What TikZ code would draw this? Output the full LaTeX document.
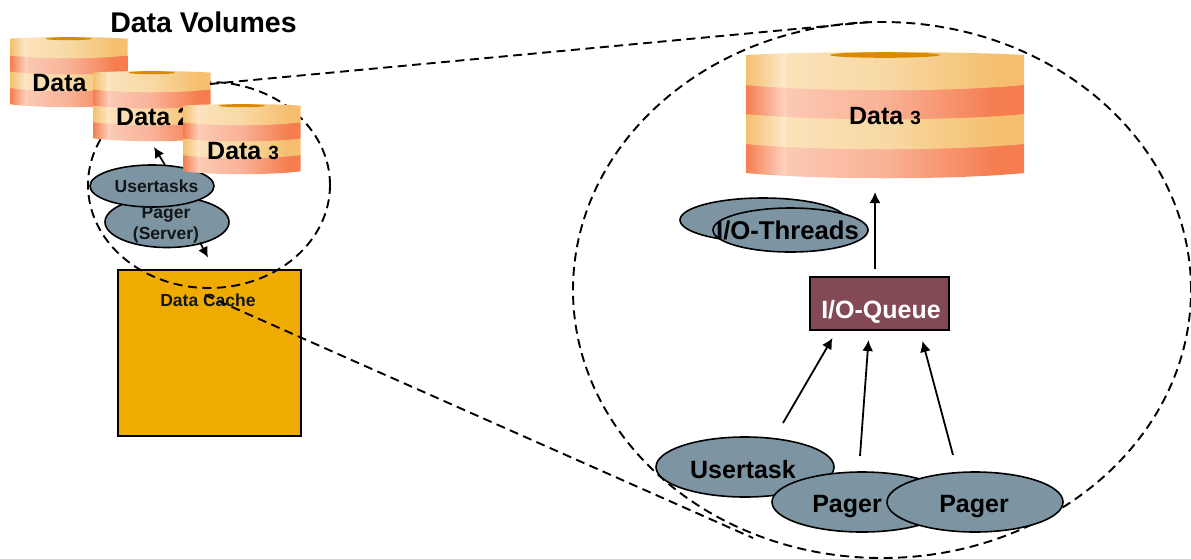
\documentclass[tikz,border=0pt]{standalone}
\usepackage{fontspec}
\setmainfont{Liberation Sans}
\usetikzlibrary{arrows.meta,shapes.geometric}
\definecolor{ya}{HTML}{F5BF6E}\definecolor{yb}{HTML}{FCE9CC}\definecolor{yc}{HTML}{FBE2BA}\definecolor{yd}{HTML}{F8D9A4}
\definecolor{ra}{HTML}{F57D4F}\definecolor{rb}{HTML}{FCD3C0}\definecolor{rc}{HTML}{FBC9B2}\definecolor{rd}{HTML}{F9B297}
\definecolor{slate}{HTML}{7D95A3}\definecolor{cache}{HTML}{F0AB00}\definecolor{queuec}{HTML}{834A55}\definecolor{holec}{HTML}{D98A00}
\pgfdeclarehorizontalshading{yband}{100bp}{color(0bp)=(ya);color(25bp)=(ya);color(32bp)=(yb);color(32.2bp)=(yc);color(50bp)=(yd);color(70bp)=(ya);color(100bp)=(ya)}
\pgfdeclarehorizontalshading{rband}{100bp}{color(0bp)=(ra);color(25bp)=(ra);color(32bp)=(rb);color(32.2bp)=(rc);color(50bp)=(rd);color(70bp)=(ra);color(100bp)=(ra)}
\newcommand{\bandpath}[3]{\shade[shading=#1] (0,#2) .. controls (70,#2-4) and (208,#2-4) .. (278,#2) -- (278,#3) .. controls (208,#3+7) and (70,#3+7) .. (0,#3) -- cycle;}
\newcommand{\cylshape}[4]{\begin{scope}[shift={(#1,#2)},xscale=#3,yscale=#4]
\bandpath{rband}{92}{121}
\bandpath{yband}{62}{92}
\bandpath{rband}{33}{62}
\bandpath{yband}{3}{33}
\fill[holec] (139,3) ellipse [x radius=55,y radius=2.8];
\end{scope}}
\newcommand{\pxfont}[1]{\fontsize{#1}{#1}\selectfont}
\tikzset{
 x=1pt,y=-1pt,
 zoomline/.style={line width=1.9pt,dash pattern=on 9pt off 5.5pt,black},
 zoomring/.style={ellipse,draw,zoomline,inner sep=0pt,outer sep=0pt},
 procoval/.style={ellipse,draw=black,line width=1.6pt,fill=slate,inner sep=0pt,outer sep=0pt},
 conn/.style={line width=1.8pt,black,-{Latex[length=11pt,width=11pt]}},
 smallconn/.style={line width=1.7pt,black,-{Latex[length=10.5pt,width=10.5pt]}},
 lbl/.style={font=\bfseries\pxfont{25},inner sep=0pt,text=black},
 smalllbl/.style={font=\bfseries\pxfont{17.5},inner sep=0pt,text=black!85!slate},
}
\begin{document}
\begin{tikzpicture}
\useasboundingbox (0,0) rectangle (1191,558);
% large zoom ring
\node[zoomring,minimum width=618pt,minimum height=536pt] (bigring) at (882,290) {};
% data cache
\node[draw=black,line width=1.5pt,fill=cache,minimum width=183pt,minimum height=166pt,inner sep=0pt,outer sep=0pt] (cachebox) at (209.5,353) {};
\node[smalllbl] (cachelbl) at (208,300) {Data Cache};
% small ring
\node[zoomring,minimum width=242pt,minimum height=206pt] (smallring) at (209,185) {};
% volumes
\node[font=\bfseries\pxfont{28.5},inner sep=0pt] (title) at (203.5,22) {Data Volumes};
\cylshape{10}{37}{0.4227}{0.556}
\node[lbl] (d1lbl) at (59.5,83) {Data};
\cylshape{93}{71}{0.4227}{0.556}
\coordinate (d2east) at (210,84);
\coordinate (d2south) at (151.5,143);
\node[lbl,anchor=west] (d2lbl) at (116,117) {Data 2};
\node[procoval,minimum width=124pt,minimum height=51pt] (pager) at (167,222) {};
\node[procoval,minimum width=124pt,minimum height=42pt] (usertasks) at (152,186) {};
\node[smalllbl] (utlbl) at (156.5,186.5) {Usertasks};
\node[smalllbl] (pglbl) at (166,214.5) {Pager};
\node[smalllbl] (srvlbl) at (166,235) {(Server)};
\cylshape{183}{104}{0.4227}{0.556}
\node[lbl,anchor=west] (d3lbl) at (207,151) {Data {\pxfont{19}3}};
\draw[smallconn] ([shift={(13,0)}]usertasks.north) -- ([shift={(2.5,4)}]d2south);
% big side
\cylshape{746}{52}{1}{1}
\node[lbl] (bd3lbl) at (885,116) {Data {\pxfont{19}3}};
\coordinate (bigtop) at (870,22);
\draw[zoomline] (d2east) -- (bigtop);
\coordinate (wedge) at (205,295);
\coordinate (wedgeend) at (753,538);
\node[procoval,minimum width=166pt,minimum height=44pt] (thrback) at (763,220) {};
\node[procoval,minimum width=155pt,minimum height=44pt] (thrfront) at (790.5,230) {};
\node[font=\bfseries\pxfont{25.7},inner sep=0pt] (thrlbl) at (787.5,230) {I/O-Threads};
\node[draw=black,line width=1.3pt,fill=queuec,minimum width=139pt,minimum height=53pt,inner sep=0pt,outer sep=0pt] (queue) at (879.5,303.5) {};
\node[lbl,text=white] (queuelbl) at (881,312) {I/O-Queue};
\draw[zoomline] (wedge) -- (wedgeend);
\node[procoval,minimum width=178pt,minimum height=60pt] (usertask) at (745,467) {};
\node[procoval,minimum width=180pt,minimum height=60pt] (pagera) at (862,502) {};
\node[procoval,minimum width=176pt,minimum height=60pt] (pagerb) at (975,502) {};
\node[lbl] (utl) at (743,470) {Usertask};
\node[lbl] (pal) at (847,507) {Pager};
\node[lbl] (pbl) at (974,507) {Pager};
\draw[conn] ([shift={(38,-14)}]usertask.north) -- ([shift={(-47,8)}]queue.south);
\draw[conn] ([shift={(-2,-16)}]pagera.north) -- ([shift={(-11,10)}]queue.south);
\draw[conn] ([shift={(-22,-17)}]pagerb.north) -- ([shift={(43,11)}]queue.south);
\draw[conn] ([shift={(-4.5,-8)}]queue.north) -- (875,192);
\draw[smallconn] ([shift={(33,-5)}]pager.south) -- ([shift={(41,10)}]pager.south);
\end{tikzpicture}
\end{document}
